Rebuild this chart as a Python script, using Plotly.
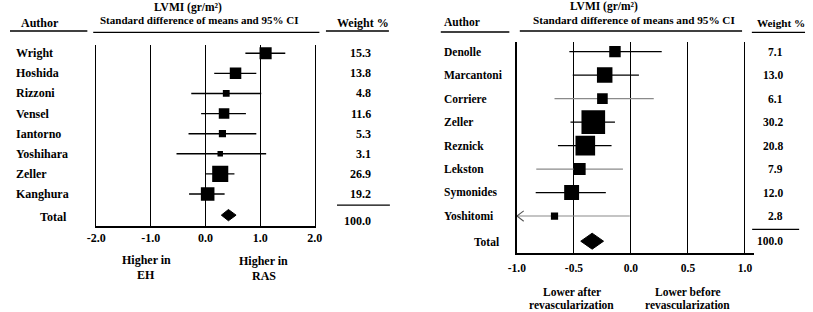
import plotly.graph_objects as go
import math

W, H = 813, 312

# ---------------- data ----------------
left_authors = ["Wright", "Hoshida", "Rizzoni", "Vensel", "Iantorno", "Yoshihara", "Zeller", "Kanghura"]
left_est = [1.10, 0.55, 0.38, 0.34, 0.31, 0.27, 0.27, 0.04]
left_lo = [0.73, 0.16, -0.26, -0.08, -0.31, -0.53, 0.01, -0.30]
left_hi = [1.46, 0.93, 1.02, 0.74, 0.93, 1.11, 0.53, 0.35]
left_weight = ["15.3", "13.8", "4.8", "11.6", "5.3", "3.1", "26.9", "19.2"]
left_total = [0.29, 0.42, 0.56]  # lo, est, hi
left_ticks = [-2.0, -1.0, 0.0, 1.0, 2.0]
left_ticktext = ["-2.0", "-1.0", "0.0", "1.0", "2.0"]

right_authors = ["Denolle", "Marcantoni", "Corriere", "Zeller", "Reznick", "Lekston", "Symonides", "Yoshitomi"]
right_est = [-0.14, -0.23, -0.25, -0.33, -0.40, -0.45, -0.52, -0.67]
right_lo = [-0.54, -0.51, -0.67, -0.53, -0.64, -0.83, -0.835, -1.0]
right_hi = [0.27, 0.07, 0.20, -0.14, -0.17, -0.07, -0.22, -0.01]
right_weight = ["7.1", "13.0", "6.1", "30.2", "20.8", "7.9", "12.0", "2.8"]
right_gray = [False, False, True, False, False, True, False, True]
right_total = [-0.44, -0.34, -0.24]
right_ticks = [-1.0, -0.5, 0.0, 0.5, 1.0]
right_ticktext = ["-1.0", "-0.5", "0.0", "0.5", "1.0"]

FONT = "Liberation Serif"


def f(size=12, color="black"):
    return dict(family=FONT, size=size, color=color)


def b(s):
    return "<b>" + s + "</b>"


fig = go.Figure()

# ---------------- left panel ----------------
xs, ys = [], []
for i, (lo, hi) in enumerate(zip(left_lo, left_hi)):
    xs += [lo, hi, None]
    ys += [i, i, None]
fig.add_trace(go.Scatter(x=xs, y=ys, mode="lines", line=dict(color="black", width=1.4),
                         xaxis="x", yaxis="y", hoverinfo="skip"))
fig.add_trace(go.Scatter(x=left_est, y=list(range(len(left_est))), mode="markers",
                         marker=dict(symbol="square", color="black", opacity=1,
                                     size=[3.1 * math.sqrt(float(w)) for w in left_weight],
                                     line=dict(width=0)),
                         xaxis="x", yaxis="y"))
lt = 8.05
fig.add_trace(go.Scatter(x=[left_total[0], left_total[1], left_total[2], left_total[1], left_total[0]],
                         y=[lt, lt - 0.28, lt, lt + 0.28, lt], mode="lines", fill="toself",
                         fillcolor="black", line=dict(color="black", width=1),
                         xaxis="x", yaxis="y"))

# ---------------- right panel ----------------
for gray in (False, True):
    xs, ys = [], []
    for i, (lo, hi) in enumerate(zip(right_lo, right_hi)):
        if right_gray[i] == gray:
            xs += [lo, hi, None]
            ys += [i, i, None]
    fig.add_trace(go.Scatter(x=xs, y=ys, mode="lines",
                             line=dict(color="#8a8a8a" if gray else "black", width=1.1 if gray else 1.3),
                             xaxis="x2", yaxis="y2", hoverinfo="skip"))
# clipped arrow for Yoshitomi
yi = 7
fig.add_trace(go.Scatter(x=[right_lo[yi] + 0.06, right_lo[yi], right_lo[yi] + 0.06],
                         y=[yi - 0.22, yi, yi + 0.22], mode="lines",
                         line=dict(color="#555555", width=1.1), xaxis="x2", yaxis="y2"))
fig.add_trace(go.Scatter(x=right_est, y=list(range(len(right_est))), mode="markers",
                         marker=dict(symbol="square", color="black", opacity=1,
                                     size=[4.3 * math.sqrt(float(w)) for w in right_weight],
                                     line=dict(width=0)),
                         xaxis="x2", yaxis="y2"))
rt = 8.07
fig.add_trace(go.Scatter(x=[right_total[0], right_total[1], right_total[2], right_total[1], right_total[0]],
                         y=[rt, rt - 0.34, rt, rt + 0.34, rt], mode="lines", fill="toself",
                         fillcolor="black", line=dict(color="black", width=1),
                         xaxis="x2", yaxis="y2"))

ann = []
shapes = []


def txt(text, x, y, xref="paper", yref="paper", xanchor="left", size=12):
    ann.append(dict(text=b(text), x=x, xref=xref, y=y, yref=yref, xanchor=xanchor, yanchor="middle",
                    align=xanchor if xanchor != "center" else "center",
                    showarrow=False, font=f(size), borderpad=0))


# left labels
for i, a in enumerate(left_authors):
    txt(a, 5 / W, i, yref="y")
    txt(left_weight[i], 369.5 / W, i, yref="y", xanchor="right")
txt("Total", 30 / W, 8.15, yref="y")
txt("100.0", 369.5 / W, 8.33, yref="y", xanchor="right")
shapes.append(dict(type="line", xref="paper", yref="y", x0=334 / W, x1=388 / W, y0=7.55, y1=7.55,
                   line=dict(color="black", width=1.3)))
txt("Higher in", -1.08, 1 - 260 / H, xref="x", xanchor="center")
txt("EH", -1.08, 1 - 274.5 / H, xref="x", xanchor="center")
txt("Higher in", 1.07, 1 - 261 / H, xref="x", xanchor="center")
txt("RAS", 1.07, 1 - 276 / H, xref="x", xanchor="center")
txt("LVMI (gr/m²)", 182 / W, 1 - 7 / H, xanchor="center", size=11.5)
txt("Standard difference of means and 95% CI", 193 / W, 1 - 20.5 / H, xanchor="center", size=11)
txt("Author", 10 / W, 1 - 23 / H)
txt("Weight %", 333 / W, 1 - 23.5 / H)
for x0, x1, yy in [(0, 79, 31), (85, 316, 32.3), (322.7, 387, 31)]:
    shapes.append(dict(type="line", xref="paper", yref="paper", x0=x0 / W, x1=x1 / W,
                       y0=1 - yy / H, y1=1 - yy / H, line=dict(color="black", width=1.3)))

# right labels
for i, a in enumerate(right_authors):
    txt(a, 442.5 / W, i, yref="y2", size=11.5)
    txt(right_weight[i], 790.5 / W, i, yref="y2", xanchor="right", size=11.5)
txt("Total", 473 / W, 8.12, yref="y2", size=11.5)
txt("100.0", 790.5 / W, 8.05, yref="y2", xanchor="right", size=11.5)
shapes.append(dict(type="line", xref="paper", yref="y2", x0=758 / W, x1=806 / W, y0=7.57, y1=7.57,
                   line=dict(color="black", width=1.3)))
txt("Lower after", -0.52, 1 - 291.7 / H, xref="x2", xanchor="center", size=11.5)
txt("revascularization", -0.52, 1 - 305 / H, xref="x2", xanchor="center", size=11.5)
txt("Lower before", 0.50, 1 - 291.7 / H, xref="x2", xanchor="center", size=11.5)
txt("revascularization", 0.50, 1 - 305 / H, xref="x2", xanchor="center", size=11.5)
txt("LVMI (gr/m²)", 607 / W, 1 - 6.5 / H, xanchor="center", size=11.5)
txt("Standard difference of means and 95% CI", 637 / W, 1 - 20 / H, xanchor="center", size=11.2)
txt("Author", 442 / W, 1 - 22 / H, size=11.5)
txt("Weight %", 762 / W, 1 - 23.5 / H, size=11.2)
for x0, x1, yy in [(440, 510, 32), (520.7, 747.7, 31), (757.7, 812, 32.3)]:
    shapes.append(dict(type="line", xref="paper", yref="paper", x0=x0 / W, x1=x1 / W,
                       y0=1 - yy / H, y1=1 - yy / H, line=dict(color="black", width=1.3)))

fig.update_layout(
    width=W, height=H, margin=dict(l=0, r=0, t=0, b=0, pad=0), autosize=False,
    paper_bgcolor="white", plot_bgcolor="white", showlegend=False,
    font=f(12),
    annotations=ann, shapes=shapes,
    xaxis=dict(domain=[88 / W, 311.3 / W], range=[-2, 2], anchor="y",
               tickvals=left_ticks, ticktext=[b(t) for t in left_ticktext], tickfont=f(12),
               showgrid=True, gridcolor="black", gridwidth=1.4, zeroline=False,
               showline=True, linecolor="black", linewidth=1.6, ticks="", ticklabelstandoff=0),
    yaxis=dict(domain=[1 - 226 / H, 1 - 45 / H], range=[8.59, -0.41], anchor="x",
               showgrid=False, zeroline=False, showticklabels=False, showline=True, mirror=True,
               linecolor="black", linewidth=1.4, ticks=""),
    xaxis2=dict(domain=[517.7 / W, 760 / W], range=[-1, 1.08], anchor="y2",
                tickvals=right_ticks, ticktext=[b(t) for t in right_ticktext], tickfont=f(11.5),
                showgrid=True, gridcolor="black", gridwidth=1.4, zeroline=False,
                showline=True, linecolor="black", linewidth=1.8, ticks="", ticklabelstandoff=4),
    yaxis2=dict(domain=[1 - 252.7 / H, 1 - 42 / H], range=[8.56, -0.41], anchor="x2",
                showgrid=False, zeroline=False, showticklabels=False, showline=True,
                linecolor="black", linewidth=1.8, ticks=""),
)

fig.write_html(
    "out.html", config={"displayModeBar": False},
    post_script=("document.documentElement.style.overflow='hidden';"
                 "document.body.style.margin='0';document.body.style.overflow='hidden';"
                 "var d=document.getElementsByClassName('plotly-graph-div')[0];"
                 "d.style.position='fixed';d.style.left='0px';d.style.top='0px';"))
